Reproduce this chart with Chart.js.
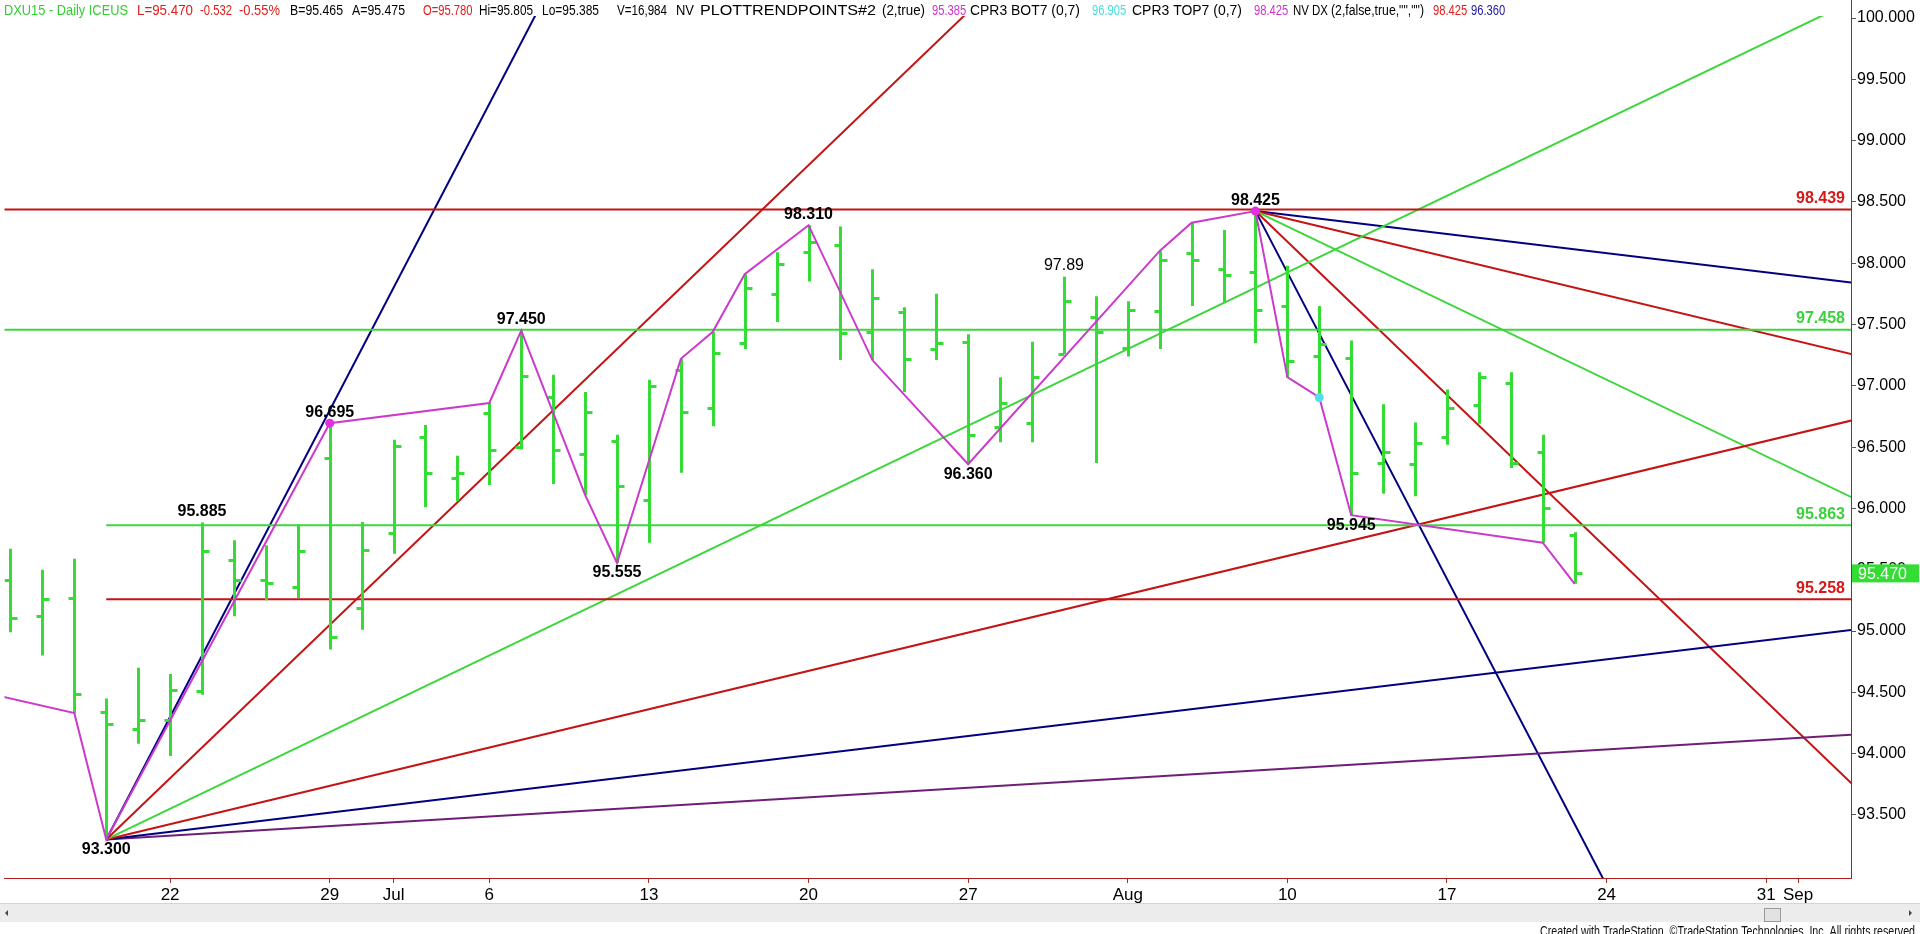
<!DOCTYPE html>
<html><head><meta charset="utf-8">
<script src="https://cdn.jsdelivr.net/npm/chart.js@4.4.1/dist/chart.umd.min.js"></script>
<style>html,body{margin:0;padding:0;background:#fff;overflow:hidden}canvas{display:block}</style>
</head><body><canvas id="c" width="1920" height="934"></canvas>
<script>
// ---------------- DATA ----------------
const dates = ['Jun 15','Jun 16','Jun 17','Jun 18','Jun 19','Jun 22','Jun 23','Jun 24','Jun 25','Jun 26',
  'Jun 29','Jun 30','Jul 1','Jul 2','Jul 3','Jul 6','Jul 7','Jul 8','Jul 9','Jul 10',
  'Jul 13','Jul 14','Jul 15','Jul 16','Jul 17','Jul 20','Jul 21','Jul 22','Jul 23','Jul 24',
  'Jul 27','Jul 28','Jul 29','Jul 30','Jul 31','Aug 3','Aug 4','Aug 5','Aug 6','Aug 7',
  'Aug 10','Aug 11','Aug 12','Aug 13','Aug 14','Aug 17','Aug 18','Aug 19','Aug 20','Aug 21'];
const opens  = [95.42,95.12,95.27,94.34,94.20,94.27,94.51,95.58,95.42,95.36,
  96.41,95.19,95.80,96.58,96.25,96.78,96.50,96.91,96.44,96.55,
  96.07,97.13,96.82,97.35,97.75,98.09,98.15,97.44,97.60,97.30,
  97.36,96.66,96.70,97.26,97.56,97.31,97.61,98.08,97.95,97.93,
  97.65,97.24,97.23,96.37,96.36,96.58,96.84,97.02,96.46,95.78];
const highs  = [95.67,95.50,95.59,94.45,94.70,94.65,95.885,95.74,95.70,95.87,
  96.695,95.89,96.56,96.68,96.43,96.86,97.45,97.09,96.95,96.60,
  97.05,97.22,97.44,97.91,98.09,98.31,98.30,97.95,97.64,97.75,
  97.42,97.07,97.36,97.89,97.73,97.69,98.10,98.33,98.27,98.425,
  97.98,97.65,97.37,96.85,96.70,96.97,97.11,97.11,96.60,95.805];
const lows   = [94.99,94.80,94.33,93.30,94.08,93.98,94.48,95.12,95.25,95.27,
  94.85,95.01,95.63,96.01,96.06,96.19,96.48,96.20,96.11,95.555,
  95.72,96.29,96.67,97.30,97.52,97.85,97.21,97.21,96.95,97.21,
  96.36,96.54,96.54,97.26,96.37,97.24,97.30,97.65,97.68,97.35,
  97.07,96.90,95.945,96.12,96.10,96.52,96.69,96.33,95.72,95.385];
const closes = [95.11,95.26,94.49,94.24,94.27,94.52,95.65,95.42,95.39,95.65,
  94.95,95.66,96.51,96.29,96.29,96.48,97.08,96.48,96.79,96.18,
  97.00,96.79,97.27,97.80,97.99,98.17,97.43,97.72,97.22,97.35,
  96.60,96.86,97.07,97.69,97.44,97.62,98.03,98.03,97.90,97.62,
  97.20,97.34,96.29,96.46,96.53,96.82,97.07,96.37,96.00,95.47];

// swing-point zigzag (PLOTTRENDPOINTS)
const zzIdx = [-1, 2, 3, 10, 15, 16, 18, 19, 21, 22, 23, 25, 27, 30, 36, 37, 39, 40, 41, 42, 48, 49];
const zzVal = [94.51, 94.33, 93.30, 96.695, 96.86, 97.45, 96.11, 95.555, 97.22, 97.44, 97.91, 98.31, 97.21, 96.36, 98.10, 98.33, 98.425, 97.07, 96.905, 95.945, 95.72, 95.385];

// dots
const dotIdx = [10, 39, 41];
const dotVal = [96.695, 98.425, 96.905];

// fan lines (slope per bar)
const lowAnchorIdx = 3, lowAnchorVal = 93.30;
const lowFanSlopes = [0.5, 0.25, 0.125, 0.0625, 0.03125, 0.015625];
const highAnchorIdx = 39, highAnchorVal = 98.425;
const highFanSlopes = [-0.5, -0.25, -0.125, -0.0625, -0.03125];
const fanEndIdx = 60;

// horizontal levels
const hLevels = [98.439, 97.458, 95.863, 95.258];
const hStartIdx = [-1, -1, 3, 3];
const hLabels = ['98.439', '97.458', '95.863', '95.258'];

// swing annotations
const annIdx  = [3, 6, 10, 16, 19, 25, 30, 33, 39, 42];
const annVal  = [93.30, 95.885, 96.695, 97.45, 95.555, 98.31, 96.36, 97.89, 98.425, 95.945];
const annText = ['93.300','95.885','96.695','97.450','95.555','98.310','96.360','97.89','98.425','95.945'];
const annSide = ['below','above','above','above','below','above','below','above','above','below'];

// axis ticks
const xTickIdx = [5, 10, 12, 15, 20, 25, 30, 35, 40, 45, 50, 55, 56];
const xTickLabels = ['22','29','Jul','6','13','20','27','Aug','10','17','24','31','Sep'];
const yTicks = [93.5, 94.0, 94.5, 95.0, 95.5, 96.0, 96.5, 97.0, 97.5, 98.0, 98.5, 99.0, 99.5, 100.0];
const lastPrice = 95.47;

// header texts
const hdrTexts = ['DXU15 - Daily ICEUS','L=95.470','-0.532','-0.55%','B=95.465','A=95.475','O=95.780','Hi=95.805',
  'Lo=95.385','V=16,984','NV','PLOTTRENDPOINTS#2','(2,true)','95.385','CPR3 BOT7 (0,7)','96.905',
  'CPR3 TOP7 (0,7)','98.425','NV DX','(2,false,true,"","")','98.425','96.360'];

// ---------------- STYLE / LAYOUT ----------------
const GREEN = '#35dc35', LGREEN = '#3dd63d', RED = '#c41414', NAVY = '#000080', PURPLE = '#6e1e78', MAG = '#cc3acc';
const lowFanColors = [NAVY, RED, LGREEN, RED, NAVY, PURPLE];
const highFanColors = [NAVY, RED, LGREEN, RED, NAVY];
const hColors = [RED, LGREEN, LGREEN, RED];
const FONT = '"Liberation Sans", Arial, sans-serif';
const NARROW = '"Liberation Sans Narrow", "Arial Narrow", "Liberation Sans", Arial, sans-serif';
const hdrX = [4,137,200,239,290,352,423,479,542,617,676,700,882,932,970,1092,1132,1254,1293,1331,1433,1471];
const hdrW = [124,56,32,41,53,53,49,54,57,50,18,176,43,31,110,31,110,31,35,93,30,33];
const hdrC = ['#33cc33','#e01c1c','#e01c1c','#e01c1c','#000','#000','#e01c1c','#000','#000','#000','#000','#000',
  '#000','#cc33cc','#000','#44dddd','#000','#cc33cc','#000','#000','#e01c1c','#1a1aa0'];

const datasets = [];
lowFanSlopes.forEach((s, k) => datasets.push({
  data: [{x: lowAnchorIdx, y: lowAnchorVal}, {x: fanEndIdx, y: lowAnchorVal + s * (fanEndIdx - lowAnchorIdx)}],
  borderColor: lowFanColors[k], borderWidth: 2, pointRadius: 0, order: 10, clip: 0}));
highFanSlopes.forEach((s, k) => datasets.push({
  data: [{x: highAnchorIdx, y: highAnchorVal}, {x: fanEndIdx, y: highAnchorVal + s * (fanEndIdx - highAnchorIdx)}],
  borderColor: highFanColors[k], borderWidth: 2, pointRadius: 0, order: 10, clip: 0}));
hLevels.forEach((v, k) => datasets.push({
  data: [{x: hStartIdx[k], y: v}, {x: fanEndIdx, y: v}],
  borderColor: hColors[k], borderWidth: 2, pointRadius: 0, order: 9, clip: 0}));
const ZZ_INDEX = datasets.length;
datasets.push({data: zzIdx.map((x, i) => ({x, y: zzVal[i]})), borderColor: MAG, borderWidth: 2, pointRadius: 0, order: 2, clip: 0});
datasets.push({data: dotIdx.map((x, i) => ({x, y: dotVal[i]})), showLine: false, pointRadius: 4.5, pointBorderWidth: 0,
  pointBackgroundColor: ['#e22ee2', '#e22ee2', '#55ddee'], order: 1, clip: 0});

const ohlcPlugin = {
  id: 'ohlc',
  beforeDatasetDraw(chart, args) {
    if (args.index !== ZZ_INDEX) return;
    const {ctx, scales: {x, y}, chartArea: a} = chart;
    ctx.save();
    ctx.beginPath(); ctx.rect(a.left, a.top, a.width, a.height); ctx.clip();
    ctx.strokeStyle = GREEN; ctx.lineWidth = 3; ctx.lineCap = 'butt';
    for (let i = 0; i < dates.length; i++) {
      const px = Math.round(x.getPixelForValue(i)) + 0.5;
      ctx.beginPath();
      ctx.moveTo(px, y.getPixelForValue(highs[i]));
      ctx.lineTo(px, y.getPixelForValue(lows[i]));
      const yo = Math.round(y.getPixelForValue(opens[i])) + 0.5;
      const yc = Math.round(y.getPixelForValue(closes[i])) + 0.5;
      ctx.moveTo(px - 6, yo); ctx.lineTo(px, yo);
      ctx.moveTo(px, yc); ctx.lineTo(px + 7, yc);
      ctx.stroke();
    }
    ctx.restore();
  },
  afterDraw(chart) {
    const {ctx, scales: {x, y}, chartArea: a} = chart;
    ctx.save();
    // annotations
    ctx.textAlign = 'center'; ctx.textBaseline = 'middle'; ctx.fillStyle = '#000';
    annIdx.forEach((idx, k) => {
      ctx.font = (annText[k] === '97.89' ? '' : 'bold ') + '16px ' + FONT;
      const py = y.getPixelForValue(annVal[k]) + (annSide[k] === 'above' ? -11 : 10);
      ctx.fillText(annText[k], x.getPixelForValue(idx), py);
    });
    // level labels
    ctx.textAlign = 'right'; ctx.font = 'bold 16px ' + FONT;
    hLevels.forEach((v, k) => {
      ctx.fillStyle = hColors[k] === RED ? '#d81818' : '#3ad23a';
      ctx.fillText(hLabels[k], a.right - 6, y.getPixelForValue(v) - 11);
    });
    // right border extension to top
    ctx.strokeStyle = '#b01c1c'; ctx.lineWidth = 1;
    ctx.beginPath(); ctx.moveTo(a.right + 0.5, 0); ctx.lineTo(a.right + 0.5, a.top); ctx.stroke();
    // last price box
    const ly = y.getPixelForValue(lastPrice);
    ctx.fillStyle = '#33dd33'; ctx.fillRect(a.right + 1, ly - 9, 67, 18);
    ctx.fillStyle = '#fff'; ctx.textAlign = 'left'; ctx.font = '16px ' + FONT;
    ctx.fillText(lastPrice.toFixed(3), a.right + 7, ly + 1);
    // header (each segment fitted into its slot)
    ctx.font = '14px ' + FONT; ctx.textBaseline = 'alphabetic'; ctx.textAlign = 'left';
    hdrTexts.forEach((t, k) => {
      const m = ctx.measureText(t).width;
      const sc = Math.max(0.8, Math.min(1.2, hdrW[k] / m));
      ctx.save(); ctx.translate(hdrX[k], 15); ctx.scale(sc, 1);
      ctx.fillStyle = hdrC[k]; ctx.fillText(t, 0, 0); ctx.restore();
    });
    // scrollbar
    ctx.fillStyle = '#ececec'; ctx.fillRect(0, 904, 1920, 18);
    ctx.strokeStyle = '#d4d4d4'; ctx.beginPath(); ctx.moveTo(0, 903.5); ctx.lineTo(1920, 903.5); ctx.stroke();
    ctx.fillStyle = '#e2e2e2'; ctx.fillRect(1764, 908, 16, 13);
    ctx.strokeStyle = '#9a9a9a'; ctx.strokeRect(1764.5, 908.5, 16, 13);
    ctx.fillStyle = '#444';
    ctx.beginPath(); ctx.moveTo(5, 913); ctx.lineTo(8, 910); ctx.lineTo(8, 916); ctx.fill();
    ctx.beginPath(); ctx.moveTo(1912, 913); ctx.lineTo(1909, 910); ctx.lineTo(1909, 916); ctx.fill();
    // footer
    ctx.font = '14px ' + NARROW; ctx.fillStyle = '#111'; ctx.textAlign = 'right';
    const ft = 'Created with TradeStation. \u00A9TradeStation Technologies, Inc. All rights reserved.';
    const w = ctx.measureText(ft).width; const sc = 378 / w;
    ctx.save(); ctx.translate(1918, 936); ctx.scale(sc, 1); ctx.fillText(ft, 0, 0); ctx.restore();
    ctx.restore();
  }
};

const PX_PER_UNIT = 122.6;
new Chart(document.getElementById('c'), {
  type: 'line',
  data: {datasets},
  options: {
    responsive: false, animation: false, devicePixelRatio: 1, events: [],
    layout: {padding: {top: 16, left: 0, right: 0, bottom: 0}},
    plugins: {legend: {display: false}, tooltip: {enabled: false}},
    elements: {line: {tension: 0}},
    scales: {
      x: {
        type: 'linear', min: -0.1875, max: -0.1875 + 1851 / 32,
        afterFit(s) { s.height = 56; },
        afterBuildTicks(s) { s.ticks = xTickIdx.map(v => ({value: v})); },
        ticks: {autoSkip: false, maxRotation: 0, color: '#000', padding: 2,
          font: {family: NARROW, size: 17}, callback: (v, i) => xTickLabels[i]},
        grid: {drawOnChartArea: false, tickLength: 5, color: '#a03030'},
        border: {color: '#b01c1c', width: 1}
      },
      y: {
        type: 'linear', position: 'right',
        min: 100 - (878 - 18) / PX_PER_UNIT, max: 100 + (18 - 16) / PX_PER_UNIT,
        afterFit(s) { s.width = 69; },
        afterBuildTicks(s) { s.ticks = yTicks.map(v => ({value: v})); },
        ticks: {color: '#000', padding: 1, font: {family: FONT, size: 16}, callback: v => Number(v).toFixed(3)},
        grid: {drawOnChartArea: false, tickLength: 5, color: '#555'},
        border: {color: '#b01c1c', width: 1}
      }
    }
  },
  plugins: [ohlcPlugin]
});
</script>
</body></html>
